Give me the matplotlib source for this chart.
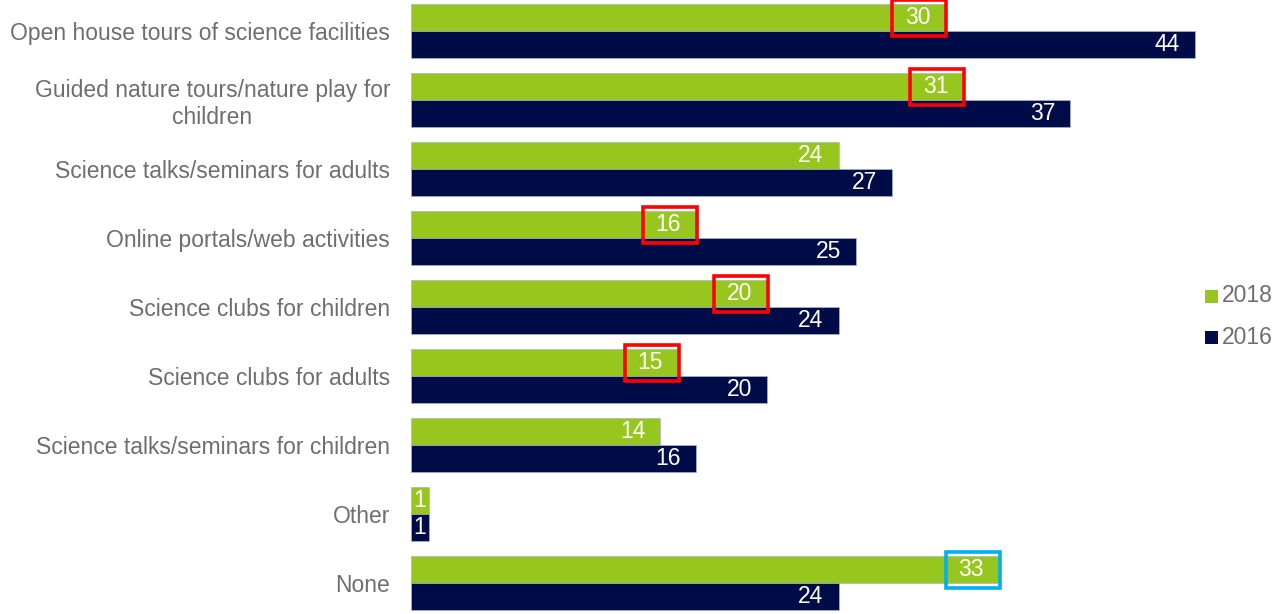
import matplotlib
matplotlib.use("Agg")
import matplotlib.pyplot as plt
from matplotlib.patches import Rectangle
import numpy as np

plt.rcParams['font.family'] = ['Liberation Sans', 'DejaVu Sans']

categories = [
    "Open house tours of science facilities",
    "Guided nature tours/nature play for\nchildren",
    "Science talks/seminars for adults",
    "Online portals/web activities",
    "Science clubs for children",
    "Science clubs for adults",
    "Science talks/seminars for children",
    "Other",
    "None",
]
values_2018 = [30, 31, 24, 16, 20, 15, 14, 1, 33]
values_2016 = [44, 37, 27, 25, 24, 20, 16, 1, 24]
# highlighted 2018 values: red = notable drop, blue = notable rise
highlight_red = ["Open house tours of science facilities",
                 "Guided nature tours/nature play for\nchildren",
                 "Online portals/web activities",
                 "Science clubs for children",
                 "Science clubs for adults"]
highlight_blue = ["None"]

GREEN = "#97C71E"
NAVY = "#000C47"
LABEL_GRAY = "#6E6E6E"
EDGE = "#A9B5CC"
FS = 16.5

DPI = 100
fig = plt.figure(figsize=(12.81, 6.14), dpi=DPI)
x_max = 48
ax = fig.add_axes([411 / 1281, 0.0, (1266 - 411) / 1281, 1.0])

y = np.arange(len(categories))
h = 0.39
ax.barh(y - h / 2, values_2018, height=h, color=GREEN, edgecolor=EDGE, linewidth=0.5)
ax.barh(y + h / 2, values_2016, height=h, color=NAVY, edgecolor=EDGE, linewidth=0.5)

ax.set_xlim(0, x_max)
ax.set_ylim(len(categories) - 1 + 0.449, -0.449)
ax.set_yticks(y)
ax.set_yticklabels(categories, fontsize=FS, color=LABEL_GRAY, multialignment="center")
ax.tick_params(axis="y", length=0, pad=15)
ax.set_xticks([])
for s in ax.spines.values():
    s.set_visible(False)

# pixel -> data conversion
px_per_unit = (1266 - 411) / x_max
px_per_row = 614 / (len(categories) - 1 + 0.898)


def value_label(val, yc):
    width_px = val * px_per_unit
    if width_px < 40:
        ax.text(val / 2, yc, str(val), ha="center", va="center",
                color="white", fontsize=FS)
    else:
        ax.text(val - 15 / px_per_unit, yc, str(val), ha="right", va="center",
                color="white", fontsize=FS)


for i in range(len(categories)):
    value_label(values_2018[i], y[i] - h / 2)
    value_label(values_2016[i], y[i] + h / 2)

# boxes around highlighted 2018 labels
for i, cat in enumerate(categories):
    if cat in highlight_red or cat in highlight_blue:
        col = "#FF0000" if cat in highlight_red else "#00B0F0"
        v = values_2018[i]
        x0 = v - 53 / px_per_unit
        w = 54 / px_per_unit
        yc = y[i] - h / 2
        hh = 36 / px_per_row
        ax.add_patch(Rectangle((x0, yc - hh / 2), w, hh, fill=False,
                               edgecolor=col, linewidth=2.6, clip_on=False, zorder=5))

# legend
fig_h = 614
for label, color, yc in [("2018", GREEN, 296.5), ("2016", NAVY, 337.5)]:
    fig.patches.append(Rectangle((1205 / 1281, 1 - (yc + 6.5) / fig_h), 13 / 1281, 13 / fig_h,
                                 facecolor=color, edgecolor="none",
                                 transform=fig.transFigure, figure=fig))
    fig.text(1222 / 1281, 1 - (yc - 0.5) / fig_h, label, ha="left", va="center",
             fontsize=FS, color=LABEL_GRAY)

fig.savefig("out.png", dpi=DPI)
